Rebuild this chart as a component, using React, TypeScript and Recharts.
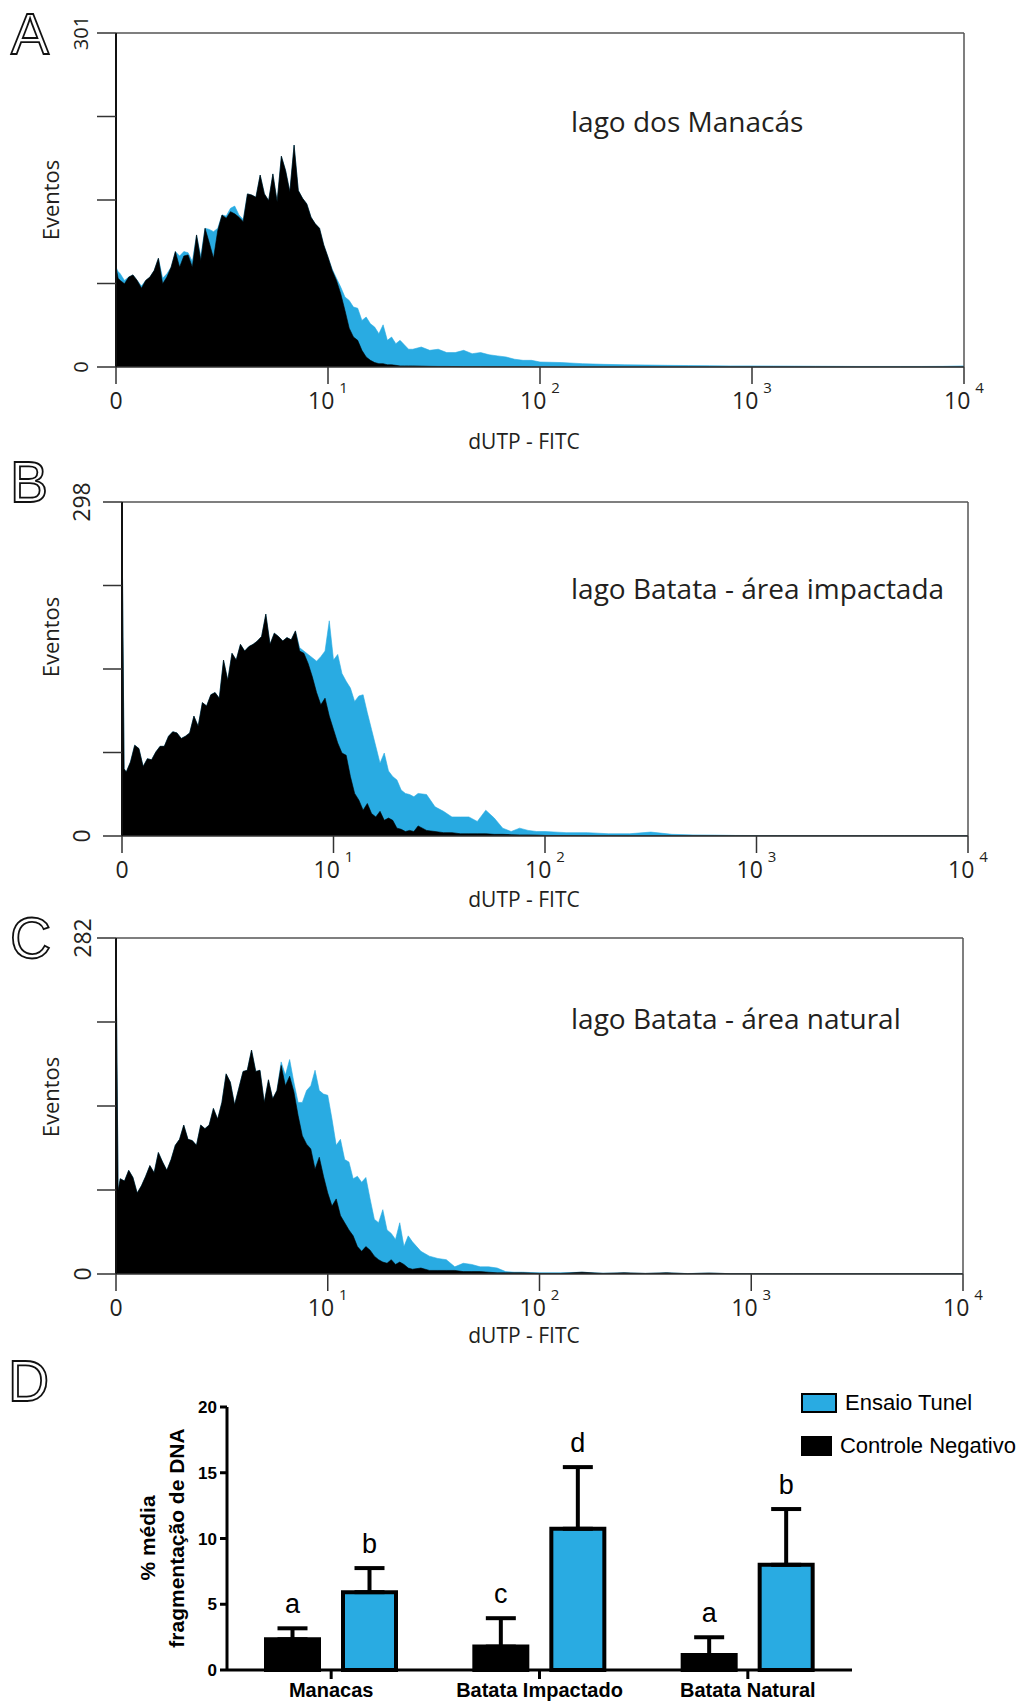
import React from "react";
import {
  AreaChart,
  Area,
  XAxis,
  YAxis,
  ReferenceLine,
  BarChart,
  Bar,
  ErrorBar,
  LabelList,
  Legend,
} from "recharts";

// fluorescence channel in decades (0 -> 10^0 ... 4 -> 10^4)
const CHANNELS = [
  0, 0.01, 0.02, 0.04, 0.06, 0.08, 0.1, 0.12, 0.14, 0.16,
  0.18, 0.2, 0.22, 0.24, 0.26, 0.28, 0.3, 0.32, 0.34, 0.36,
  0.38, 0.4, 0.42, 0.44, 0.46, 0.48, 0.5, 0.52, 0.54, 0.56,
  0.58, 0.6, 0.62, 0.64, 0.66, 0.68, 0.7, 0.72, 0.74, 0.76,
  0.78, 0.8, 0.82, 0.84, 0.86, 0.88, 0.9, 0.92, 0.94, 0.96,
  0.98, 1.0, 1.02, 1.04, 1.06, 1.08, 1.1, 1.12, 1.14, 1.16,
  1.18, 1.2, 1.22, 1.24, 1.26, 1.28, 1.3, 1.32, 1.34, 1.36,
  1.38, 1.4, 1.44, 1.48, 1.52, 1.56, 1.6, 1.64, 1.68, 1.72,
  1.76, 1.8, 1.84, 1.88, 1.92, 1.96, 2.0, 2.1, 2.2, 2.3,
  2.4, 2.5, 2.6, 2.7, 2.8, 2.9, 3.0, 3.1, 3.2, 3.3,
  3.4, 3.5, 3.6, 3.7, 3.8, 3.9, 4.0,
];

// A - lago dos Manacás
const A_CONTROL = [
  90, 80, 78, 75, 81, 83, 78, 71, 78, 81,
  87, 98, 75, 81, 90, 104, 90, 100, 101, 90,
  119, 96, 125, 112, 98, 123, 137, 134, 140, 138,
  135, 131, 156, 155, 153, 173, 156, 150, 174, 149,
  190, 177, 158, 200, 159, 152, 147, 135, 129, 125,
  110, 99, 87, 78, 66, 51, 35, 27, 24, 15,
  9, 6, 4, 3, 3, 2, 2, 1.5, 1, 1,
  1, 1, 0.8, 0.6, 0.5, 0.5, 0.4, 0.3, 0.3, 0.3,
  0.2, 0.2, 0.2, 0.2, 0.2, 0.1, 0.1, 0, 0, 0,
  0, 0, 0, 0, 0, 0, 0, 0, 0, 0,
  0, 0, 0, 0, 0, 0, 0,
];
const A_TUNEL = [
  90, 86, 84, 78, 81, 83, 78, 73, 78, 81,
  87, 98, 80, 84, 90, 104, 100, 104, 103, 95,
  119, 100, 125, 124, 122, 125, 137, 136, 143, 145,
  137, 133, 156, 155, 153, 173, 156, 150, 174, 149,
  190, 177, 158, 200, 159, 152, 147, 135, 129, 125,
  110, 99, 88, 80, 72, 63, 60, 54, 53, 42,
  45, 39, 36, 30, 38, 24, 27, 21, 24, 20,
  16, 16, 18, 15, 16, 13, 13, 15, 12, 13,
  11, 10, 9, 7, 6, 6, 4.5, 4, 3, 2.4,
  2, 1.8, 1.5, 1.3, 1.2, 1, 1, 0.9, 0.8, 0.7,
  0.6, 0.5, 0.5, 0.5, 0.5, 0.6, 1,
];

// B - lago Batata, área impactada
const B_CONTROL = [
  285, 60, 57, 66, 81, 78, 62, 69, 68, 75,
  80, 80, 89, 93, 92, 87, 89, 92, 107, 98,
  119, 116, 126, 128, 123, 157, 139, 163, 157, 171,
  165, 169, 171, 174, 178, 198, 171, 181, 178, 174,
  177, 175, 183, 165, 163, 154, 142, 128, 117, 123,
  107, 95, 83, 74, 72, 53, 38, 32, 23, 29,
  20, 17, 22, 14, 16, 14, 7, 6, 4, 5,
  4, 9, 5, 4, 3, 3, 2, 2, 2, 2,
  1.5, 1.5, 1.2, 1, 1, 0.8, 0.5, 0.4, 0.3, 0.3,
  0.2, 0.2, 0.2, 0.2, 0.2, 0.2, 0.2, 0.2, 0.2, 0.2,
  0.2, 0.2, 0.2, 0.2, 0.2, 0.2, 0.2,
];
const B_TUNEL = [
  285, 60, 57, 66, 81, 78, 62, 69, 68, 75,
  80, 80, 89, 93, 92, 87, 89, 92, 107, 98,
  119, 116, 126, 128, 123, 157, 139, 163, 157, 171,
  165, 169, 171, 174, 178, 198, 171, 181, 178, 174,
  177, 175, 183, 168, 165, 162, 159, 156, 160, 165,
  192, 157, 162, 145, 138, 132, 120, 125, 126, 110,
  95, 80, 65, 74, 58, 53, 50, 41, 38, 37,
  35, 38, 37, 26, 22, 17, 17, 17, 13, 23,
  16, 7, 4, 7, 5, 4, 4, 3, 3, 2,
  2, 3.5, 1.5, 1, 0.8, 0.5, 0.4, 0.4, 0.3, 0.3,
  0.3, 0.3, 0.3, 0.3, 0.3, 0.3, 0.3,
];

// C - lago Batata, área natural
const C_CONTROL = [
  275, 70, 80, 78, 87, 81, 68, 74, 82, 91,
  85, 102, 94, 87, 96, 108, 113, 125, 113, 112,
  108, 125, 122, 125, 139, 130, 144, 168, 161, 142,
  156, 170, 171, 188, 170, 171, 144, 163, 147, 154,
  175, 158, 166, 153, 133, 116, 109, 105, 88, 98,
  82, 68, 57, 63, 49, 43, 37, 32, 23, 19,
  23, 20, 15, 12, 10, 9, 12, 8, 10, 8,
  5, 4, 5, 3, 3, 3, 3, 2, 2, 2,
  1.5, 1, 1, 1, 1, 0.8, 0.5, 0.5, 1.5, 0.5,
  1, 0.5, 1, 0.3, 0.8, 0.3, 0.3, 0.2, 0.2, 0.2,
  0.2, 0.2, 0.2, 0.2, 0.2, 0.2, 0.2,
];
const C_TUNEL = [
  275, 70, 80, 78, 87, 81, 68, 74, 82, 91,
  85, 102, 94, 87, 96, 108, 113, 125, 113, 112,
  108, 125, 122, 125, 139, 130, 144, 168, 161, 142,
  156, 170, 171, 188, 170, 171, 144, 163, 147, 154,
  178, 167, 180, 161, 144, 144, 154, 158, 171, 154,
  151, 150, 130, 108, 113, 96, 94, 80, 82, 77,
  81, 63, 46, 43, 54, 37, 34, 29, 43, 23,
  32, 27, 19, 15, 13, 12, 6, 9, 8, 6,
  6, 5, 2, 1.5, 1.5, 1.2, 1, 1, 1.5, 0.7,
  1, 0.5, 1, 0.4, 0.8, 0.3, 0.3, 0.3, 0.3, 0.3,
  0.3, 0.3, 0.3, 0.3, 0.3, 0.3, 0.3,
];

const X_TICKS = [0, 1, 2, 3, 4];
const X_TICK_LABELS = [["0", ""], ["10", "1"], ["10", "2"], ["10", "3"], ["10", "4"]];
const A_Y_TICKS = [0, 75.25, 150.5, 225.75, 301];
const B_Y_TICKS = [0, 74.5, 149, 223.5, 298];
const C_Y_TICKS = [0, 70.5, 141, 211.5, 282];

// D - mean % DNA fragmentation
const GROUPS = ["Manacas", "Batata Impactado", "Batata Natural"];
const CONTROL_MEAN = [2.34, 1.78, 1.14];
const CONTROL_ERR = [0.83, 2.16, 1.35];
const CONTROL_SIG = ["a", "c", "a"];
const TUNEL_MEAN = [5.92, 10.74, 8.0];
const TUNEL_ERR = [1.83, 4.69, 4.24];
const TUNEL_SIG = ["b", "d", "b"];
const D_Y_TICKS = [0, 5, 10, 15, 20];
const LEGEND_NAMES = ["Ensaio Tunel", "Controle Negativo"];

const BLUE = "#29abe2";
const INK = "#231f20";
const HIST_FONT = "'Open Sans', 'Noto Sans', sans-serif";
const BAR_FONT = "'Liberation Sans', Arial, sans-serif";

const decadeTick = (p: any) => {
  const [base, exp] = X_TICK_LABELS[X_TICKS.indexOf(p.payload.value)] || ["", ""];
  return (
    <text x={p.x} y={p.y + 25} textAnchor="middle" fontSize={23} fontFamily={HIST_FONT} fill={INK}>
      <tspan>{base}</tspan>
      {exp && (
        <tspan dx={5} dy={-16} fontSize={15}>
          {exp}
        </tspan>
      )}
    </text>
  );
};

const countTick = (top: number, size: number, shift: number) => (p: any) => {
  const v = p.payload.value;
  if (v !== 0 && v !== top) return <g />;
  return (
    <text
      transform={`translate(${p.x + shift},${p.y}) rotate(-90)`}
      textAnchor="middle"
      dy="0.35em"
      fontSize={size}
      fontFamily={HIST_FONT}
      fill={INK}
    >
      {v}
    </text>
  );
};

type HistProps = {
  top: number;
  height: number;
  margin: { top: number; right: number; left: number; bottom: number };
  yWidth: number;
  xHeight: number;
  yTicks: number[];
  control: number[];
  tunel: number[];
  tickSize: number;
  tickShift: number;
  eventosY: number;
  xLabelY: number;
};

function Histogram(props: HistProps) {
  const data = CHANNELS.map((c, i) => ({ c, control: props.control[i], tunel: props.tunel[i] }));
  const yMax = props.yTicks[props.yTicks.length - 1];
  return (
    <div style={{ position: "absolute", left: 0, top: props.top }}>
      <AreaChart width={1016} height={props.height} data={data} margin={props.margin}>
        <XAxis
          dataKey="c"
          type="number"
          domain={[0, 4]}
          ticks={X_TICKS}
          interval={0}
          height={props.xHeight}
          tickSize={17}
          tickMargin={0}
          axisLine={{ stroke: "#333", strokeWidth: 1.5 }}
          tickLine={{ stroke: "#333", strokeWidth: 1.5 }}
          tick={decadeTick}
          label={() => (
            <text x={524} y={props.xLabelY} textAnchor="middle" fontSize={21} fontFamily={HIST_FONT} fill={INK}>
              dUTP - FITC
            </text>
          )}
        />
        <YAxis
          type="number"
          domain={[0, yMax]}
          ticks={props.yTicks}
          interval={0}
          width={props.yWidth}
          tickSize={19}
          tickMargin={0}
          axisLine={{ stroke: "#111", strokeWidth: 2 }}
          tickLine={{ stroke: "#333", strokeWidth: 1.5 }}
          tick={countTick(yMax, props.tickSize, props.tickShift)}
          label={() => (
            <text
              transform={`translate(51,${props.eventosY}) rotate(-90)`}
              textAnchor="middle"
              dy="0.35em"
              fontSize={22}
              fontFamily={HIST_FONT}
              fill={INK}
            >
              Eventos
            </text>
          )}
        />
        <Area
          type="linear"
          dataKey="tunel"
          fill={BLUE}
          fillOpacity={1}
          stroke={BLUE}
          strokeWidth={0.6}
          dot={false}
          activeDot={false}
          isAnimationActive={false}
        />
        <Area
          type="linear"
          dataKey="control"
          fill="#000"
          fillOpacity={1}
          stroke="#000"
          strokeWidth={0.6}
          dot={false}
          activeDot={false}
          isAnimationActive={false}
        />
        <ReferenceLine y={yMax} stroke="#555" strokeWidth={1.5} />
        <ReferenceLine x={4} stroke="#555" strokeWidth={1.5} />
      </AreaChart>
    </div>
  );
}

const sigLabel = (means: number[], errs: number[]) => (p: any) => {
  const vb = p.viewBox || p;
  const i = p.index ?? 0;
  const perUnit = vb.height / means[i];
  const capY = vb.y - errs[i] * perUnit;
  return (
    <text x={vb.x + vb.width / 2} y={capY - 15} textAnchor="middle" fontSize={27} fontFamily={BAR_FONT} fill="#000">
      {p.value}
    </text>
  );
};

function FragmentationLegend() {
  const colors = [BLUE, "#000"];
  return (
    <div style={{ fontFamily: BAR_FONT, fontSize: 22, color: "#000" }}>
      {LEGEND_NAMES.map((name, i) => (
        <div key={name} style={{ display: "flex", alignItems: "center", height: 20, marginBottom: 23 }}>
          <span
            style={{
              display: "inline-block",
              width: 32,
              height: 16,
              background: colors[i],
              border: "2px solid #000",
              marginRight: 8,
            }}
          />
          <span style={{ whiteSpace: "nowrap" }}>{name}</span>
        </div>
      ))}
    </div>
  );
}

function Fragmentation() {
  const data = GROUPS.map((g, i) => ({
    group: g,
    control: CONTROL_MEAN[i],
    controlErr: [0, CONTROL_ERR[i]],
    controlSig: CONTROL_SIG[i],
    tunel: TUNEL_MEAN[i],
    tunelErr: [0, TUNEL_ERR[i]],
    tunelSig: TUNEL_SIG[i],
  }));
  return (
    <div style={{ position: "absolute", left: 0, top: 1380 }}>
      <BarChart
        width={1016}
        height={324}
        data={data}
        margin={{ top: 27, right: 164, left: 0, bottom: 0 }}
        barSize={53}
        barGap={24}
      >
        <XAxis
          dataKey="group"
          height={34}
          tickSize={9}
          tickMargin={0}
          interval={0}
          axisLine={{ stroke: "#000", strokeWidth: 3 }}
          tickLine={{ stroke: "#000", strokeWidth: 3 }}
          tick={(p: any) => (
            <text x={p.x} y={p.y + 18} textAnchor="middle" fontSize={20} fontWeight="bold" fontFamily={BAR_FONT} fill="#000">
              {p.payload.value}
            </text>
          )}
        />
        <YAxis
          type="number"
          domain={[0, 20]}
          ticks={D_Y_TICKS}
          interval={0}
          width={227}
          tickSize={7}
          tickMargin={3}
          axisLine={{ stroke: "#000", strokeWidth: 3 }}
          tickLine={{ stroke: "#000", strokeWidth: 3 }}
          tick={{ fontSize: 17, fontWeight: "bold", fill: "#000", fontFamily: BAR_FONT }}
          label={() => (
            <g fontSize={21} fontWeight="bold" fontFamily={BAR_FONT} fill="#000">
              <text transform="translate(148,158) rotate(-90)" textAnchor="middle" dy="0.35em">
                % média
              </text>
              <text transform="translate(177,158) rotate(-90)" textAnchor="middle" dy="0.35em">
                fragmentação de DNA
              </text>
            </g>
          )}
        />
        <Legend
          layout="horizontal"
          verticalAlign="middle"
          align="center"
          wrapperStyle={{ position: "absolute", left: 801, top: 13, width: 215, height: 70 }}
          content={() => <FragmentationLegend />}
        />
        <Bar dataKey="control" name="Controle Negativo" fill="#000" stroke="#000" strokeWidth={4} isAnimationActive={false}>
          <ErrorBar dataKey="controlErr" width={15} strokeWidth={4} stroke="#000" />
          <LabelList dataKey="controlSig" content={sigLabel(CONTROL_MEAN, CONTROL_ERR)} />
        </Bar>
        <Bar dataKey="tunel" name="Ensaio Tunel" fill={BLUE} stroke="#000" strokeWidth={4} isAnimationActive={false}>
          <ErrorBar dataKey="tunelErr" width={15} strokeWidth={4} stroke="#000" />
          <LabelList dataKey="tunelSig" content={sigLabel(TUNEL_MEAN, TUNEL_ERR)} />
        </Bar>
      </BarChart>
    </div>
  );
}

const PANEL_LETTERS = [
  { text: "A", left: 11, top: 2 },
  { text: "B", left: 10, top: 450 },
  { text: "C", left: 10, top: 906 },
  { text: "D", left: 8, top: 1349 },
];

const TITLES = [
  { text: "lago dos Manacás", top: 107 },
  { text: "lago Batata - área impactada", top: 574 },
  { text: "lago Batata - área natural", top: 1004 },
];

export default function App() {
  return (
    <div style={{ position: "absolute", left: 0, top: 0, width: 1016, height: 1704, background: "#fff", overflow: "hidden" }}>
      <Histogram
        top={0}
        height={470}
        margin={{ top: 33, right: 52, left: 0, bottom: 0 }}
        yWidth={116}
        xHeight={103}
        yTicks={A_Y_TICKS}
        control={A_CONTROL}
        tunel={A_TUNEL}
        tickSize={20}
        tickShift={-16}
        eventosY={200}
        xLabelY={449}
      />
      <Histogram
        top={440}
        height={480}
        margin={{ top: 62, right: 48, left: 0, bottom: 0 }}
        yWidth={122}
        xHeight={84}
        yTicks={B_Y_TICKS}
        control={B_CONTROL}
        tunel={B_TUNEL}
        tickSize={23}
        tickShift={-21}
        eventosY={197}
        xLabelY={467}
      />
      <Histogram
        top={880}
        height={480}
        margin={{ top: 58, right: 53, left: 0, bottom: 0 }}
        yWidth={116}
        xHeight={86}
        yTicks={C_Y_TICKS}
        control={C_CONTROL}
        tunel={C_TUNEL}
        tickSize={23}
        tickShift={-14}
        eventosY={217}
        xLabelY={463}
      />
      <Fragmentation />
      {TITLES.map((t) => (
        <div
          key={t.text}
          style={{
            position: "absolute",
            left: 571,
            top: t.top,
            fontFamily: HIST_FONT,
            fontSize: 28,
            lineHeight: "28px",
            color: INK,
            whiteSpace: "nowrap",
          }}
        >
          {t.text}
        </div>
      ))}
      {PANEL_LETTERS.map((l) => (
        <div
          key={l.text}
          style={{
            position: "absolute",
            left: l.left,
            top: l.top,
            fontFamily: BAR_FONT,
            fontSize: 57,
            lineHeight: "64px",
            color: "#fff",
            WebkitTextStroke: "1.8px #111",
          }}
        >
          {l.text}
        </div>
      ))}
    </div>
  );
}
